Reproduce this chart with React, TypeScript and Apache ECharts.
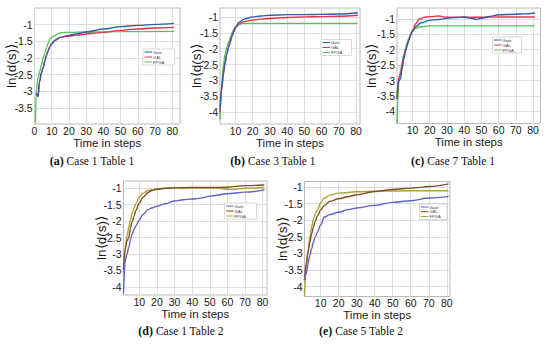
import React, { useEffect, useRef } from "react";
import * as echarts from "echarts";

const seriesNames = ["Gate", "GAL", "FPGA"];
const captionTags = ["(a)", "(b)", "(c)", "(d)", "(e)"];
const captionTexts = ["Case 1 Table 1", "Case 3 Table 1", "Case 7 Table 1", "Case 1 Table 2", "Case 5 Table 2"];
const xTicksA = [0, 10, 20, 30, 40, 50, 60, 70, 80];
const xTicks = [10, 20, 30, 40, 50, 60, 70, 80];
const yTicksA = [-1, -1.5, -2, -2.5, -3, -3.5];
const yTicks = [-1, -1.5, -2, -2.5, -3, -3.5, -4];

// Panel (a)
const gateA = [[1,-3.05],[2,-3.15],[3,-2.7],[4,-2.45],[5,-2.3],[6,-2.1],[7,-1.92],[8,-1.78],[9,-1.66],[10,-1.58],[12,-1.47],[15,-1.38],[20,-1.32],[25,-1.27],[30,-1.22],[40,-1.13],[50,-1.06],[60,-1.02],[70,-0.99],[81,-0.96]];
const galA = [[1,-3.05],[2,-3.15],[3,-2.7],[4,-2.45],[5,-2.28],[6,-2.08],[7,-1.9],[8,-1.76],[9,-1.65],[10,-1.56],[12,-1.46],[15,-1.38],[20,-1.34],[25,-1.31],[30,-1.28],[40,-1.23],[50,-1.17],[60,-1.13],[70,-1.1],[81,-1.08]];
const fpgaA = [[0.5,-3.95],[1,-3.05],[2,-2.6],[3,-2.4],[4,-2.2],[5,-2.0],[6,-1.85],[7,-1.68],[8,-1.55],[9,-1.43],[10,-1.38],[12,-1.32],[14,-1.26],[16,-1.24],[20,-1.23],[30,-1.22],[50,-1.21],[81,-1.2]];

// Panel (b)
const gateB = [[1,-3.9],[2,-3.2],[3,-2.75],[4,-2.4],[5,-2.15],[6,-1.95],[7,-1.78],[8,-1.6],[9,-1.46],[10,-1.33],[12,-1.17],[15,-1.07],[20,-1.0],[25,-0.97],[30,-0.95],[40,-0.93],[50,-0.93],[60,-0.92],[70,-0.91],[81,-0.87]];
const galB = [[1,-4.0],[2,-3.3],[3,-2.8],[4,-2.45],[5,-2.15],[6,-1.95],[7,-1.76],[8,-1.6],[9,-1.45],[10,-1.33],[12,-1.22],[15,-1.15],[20,-1.1],[25,-1.07],[30,-1.05],[40,-1.02],[50,-1.0],[60,-0.99],[70,-0.98],[81,-0.95]];
const fpgaB = [[1,-4.25],[2,-3.1],[3,-2.5],[4,-2.15],[5,-1.95],[6,-1.8],[7,-1.65],[8,-1.5],[9,-1.4],[10,-1.32],[12,-1.24],[14,-1.21],[20,-1.21],[40,-1.21],[60,-1.21],[81,-1.21]];

// Panel (c)
const gateC = [[1,-3.6],[2,-3.0],[3,-2.95],[4,-2.6],[5,-2.3],[6,-2.05],[7,-1.85],[8,-1.68],[9,-1.52],[10,-1.41],[12,-1.25],[15,-1.13],[20,-1.05],[25,-1.02],[30,-0.98],[35,-0.96],[40,-0.95],[45,-0.99],[47,-1.02],[50,-0.98],[55,-0.92],[60,-0.87],[70,-0.85],[75,-0.84],[81,-0.81]];
const galC = [[1,-3.6],[2,-2.9],[3,-2.8],[4,-2.5],[5,-2.2],[6,-2.0],[7,-1.82],[8,-1.65],[9,-1.5],[10,-1.38],[12,-1.15],[14,-1.0],[17,-0.95],[20,-0.93],[25,-0.91],[30,-0.95],[35,-0.95],[40,-0.94],[45,-0.95],[50,-0.95],[60,-0.94],[70,-0.94],[81,-0.94]];
const fpgaC = [[1,-4.4],[1.5,-3.6],[2,-3.1],[3,-2.7],[4,-2.4],[5,-2.15],[6,-1.95],[7,-1.75],[8,-1.6],[9,-1.47],[10,-1.38],[12,-1.3],[15,-1.25],[20,-1.23],[40,-1.23],[60,-1.23],[81,-1.23]];

// Panel (d)
const gateD = [[1,-4.2],[2,-3.2],[3,-3.0],[4,-2.8],[5,-2.55],[6,-2.4],[7,-2.25],[8,-2.15],[10,-1.97],[12,-1.8],[15,-1.65],[17,-1.6],[20,-1.55],[25,-1.47],[30,-1.39],[35,-1.35],[40,-1.33],[45,-1.3],[50,-1.24],[60,-1.17],[70,-1.12],[81,-1.05]];
const galD = [[1,-3.5],[2,-2.85],[3,-2.6],[4,-2.5],[5,-2.2],[6,-2.0],[7,-1.85],[8,-1.68],[10,-1.45],[12,-1.28],[15,-1.13],[17,-1.07],[20,-1.03],[25,-1.0],[30,-0.99],[40,-0.98],[50,-0.98],[60,-0.97],[70,-0.92],[81,-0.9]];
const fpgaD = [[1,-3.6],[2,-2.8],[3,-2.45],[4,-2.2],[5,-1.95],[6,-1.75],[7,-1.6],[8,-1.47],[10,-1.27],[12,-1.15],[15,-1.07],[20,-1.02],[25,-1.0],[30,-0.99],[40,-0.99],[50,-0.99],[55,-1.0],[60,-1.03],[63,-1.04],[70,-1.0],[81,-0.98]];

// Panel (e)
const gateE = [[1,-3.8],[2,-3.6],[3,-3.3],[4,-3.05],[5,-2.85],[6,-2.65],[7,-2.5],[8,-2.38],[10,-2.14],[12,-1.9],[15,-1.83],[20,-1.76],[25,-1.68],[30,-1.63],[40,-1.55],[50,-1.46],[60,-1.41],[70,-1.33],[81,-1.28]];
const galE = [[1,-3.8],[2,-3.3],[3,-2.95],[4,-2.65],[5,-2.4],[6,-2.2],[7,-2.02],[8,-1.88],[10,-1.69],[12,-1.55],[15,-1.43],[20,-1.35],[25,-1.29],[30,-1.23],[40,-1.13],[50,-1.07],[60,-1.03],[67,-1.0],[70,-0.98],[81,-0.9]];
const fpgaE = [[1,-4.3],[2,-3.4],[3,-2.9],[4,-2.5],[5,-2.2],[6,-1.95],[7,-1.8],[8,-1.7],[10,-1.48],[12,-1.33],[15,-1.24],[20,-1.18],[30,-1.14],[40,-1.12],[60,-1.11],[81,-1.11]];

const panelData = [
  [gateA, galA, fpgaA],
  [gateB, galB, fpgaB],
  [gateC, galC, fpgaC],
  [gateD, galD, fpgaD],
  [gateE, galE, fpgaE],
];

const colorsTop = ["#2f5fa3", "#e8344c", "#5cbf5c"];
const colorsBottom = ["#6062c4", "#7f4f22", "#aaa33a"];

const layouts = [
  { l: 34.5, t: 8, w: 145.5, h: 116, xmin: 0, xmax: 84.5, ymin: -3.98, ymax: -0.5, xt: xTicksA, yt: yTicksA },
  { l: 220, t: 8, w: 140, h: 116, xmin: 1, xmax: 82.3, ymin: -4.37, ymax: -0.72, xt: xTicks, yt: yTicks },
  { l: 397, t: 8, w: 143.5, h: 115.5, xmin: 1, xmax: 84.3, ymin: -4.39, ymax: -0.65, xt: xTicks, yt: yTicks },
  { l: 123.5, t: 181, w: 143.5, h: 114, xmin: 1, xmax: 82.5, ymin: -4.25, ymax: -0.78, xt: xTicks, yt: yTicks },
  { l: 304.5, t: 181.5, w: 145.5, h: 115, xmin: 1, xmax: 81.8, ymin: -4.3, ymax: -0.83, xt: xTicks, yt: yTicks },
];

const legendBoxes = [
  { x: 143, y: 49, w: 31.5, h: 16 },
  { x: 321, y: 39.5, w: 30.5, h: 16 },
  { x: 492.5, y: 37, w: 29, h: 16 },
  { x: 224.5, y: 203, w: 32, h: 16 },
  { x: 419.5, y: 204, w: 27.5, h: 15.5 },
];

const yLabelPos = [[11.5, 66], [196, 66], [371, 66], [101, 238], [282, 239]];
const captionCenters = [[92, 161], [273, 161], [453, 161], [181, 331], [361, 331]];

export default function App() {
  const ref = useRef<HTMLDivElement>(null);
  useEffect(() => {
    const chart = echarts.init(ref.current!, null, { renderer: "svg" });
    const grids: any[] = [];
    const xAxes: any[] = [];
    const yAxes: any[] = [];
    const series: any[] = [];
    const graphic: any[] = [];
    const sans = "Liberation Sans, Arial, sans-serif";
    const tickFont = { fontFamily: sans, fontSize: 10.5, lineHeight: 11, color: "#1a1a1a" };

    layouts.forEach((L, i) => {
      grids.push({ left: L.l, top: L.t, width: L.w, height: L.h, show: true, borderColor: "#a8a8a8", borderWidth: 0.8, backgroundColor: "#fff" });
      xAxes.push({
        type: "value", gridIndex: i, min: L.xmin, max: L.xmax,
        axisLine: { show: false }, axisTick: { show: false, customValues: L.xt },
        axisLabel: { ...tickFont, margin: 1, customValues: L.xt, formatter: (v: number) => String(v) },
        splitLine: { show: true, lineStyle: { color: "#d6d6d6", width: 0.8 } },
      });
      yAxes.push({
        type: "value", gridIndex: i, min: L.ymin, max: L.ymax,
        axisLine: { show: false }, axisTick: { show: false, customValues: L.yt },
        axisLabel: { ...tickFont, margin: 2, customValues: L.yt, formatter: (v: number) => String(v) },
        splitLine: { show: true, lineStyle: { color: "#d6d6d6", width: 0.8 } },
      });
      const cols = i < 3 ? colorsTop : colorsBottom;
      panelData[i].forEach((d, k) => {
        series.push({
          type: "line", name: seriesNames[k], xAxisIndex: i, yAxisIndex: i, data: d,
          showSymbol: false, smooth: 0.35, smoothMonotone: "x",
          lineStyle: { color: cols[k], width: 1.4 }, clip: true, z: 5 - k,
        });
      });
      graphic.push({
        type: "text", x: L.l + L.w / 2, y: L.t + L.h + 18.5,
        style: { text: "Time in steps", fontFamily: sans, fontSize: 11.5, lineHeight: 12, fill: "#1a1a1a", align: "center", verticalAlign: "middle" },
      });
      graphic.push({
        type: "text", x: yLabelPos[i][0], y: yLabelPos[i][1], rotation: Math.PI / 2,
        style: { text: "ln⟨d(s)⟩", fontFamily: sans, fontSize: 13.5, fill: "#1a1a1a", align: "center", verticalAlign: "middle" },
      });
      graphic.push({
        type: "text", x: captionCenters[i][0], y: captionCenters[i][1],
        style: {
          text: "{b|" + captionTags[i] + "} " + captionTexts[i],
          fontFamily: "Liberation Serif, Times New Roman, serif", fontSize: 11.5, fill: "#111", align: "center", verticalAlign: "middle",
          rich: { b: { fontWeight: "bold", fontFamily: "Liberation Serif, Times New Roman, serif", fontSize: 12, fill: "#111" } },
        },
      });
      const B = legendBoxes[i];
      graphic.push({ type: "rect", shape: { x: B.x, y: B.y, width: B.w, height: B.h }, style: { fill: "#fff", stroke: "#c0c0c0", lineWidth: 0.6 }, z: 10 });
      seriesNames.forEach((nm, k) => {
        const yy = B.y + 3 + k * (B.h - 6) / 2;
        graphic.push({ type: "line", shape: { x1: B.x + 1.5, y1: yy, x2: B.x + 9, y2: yy }, style: { stroke: cols[k], lineWidth: 1 }, z: 11 });
        graphic.push({ type: "text", x: B.x + 10, y: yy, style: { text: nm, fontFamily: sans, fontSize: 4.2, lineHeight: 4.2, fill: "#444", align: "left", verticalAlign: "middle" }, z: 11 });
      });
    });

    chart.setOption({
      animation: false,
      backgroundColor: "#fff",
      grid: grids, xAxis: xAxes, yAxis: yAxes, series, graphic,
    });
    return () => chart.dispose();
  }, []);
  return <div ref={ref} style={{ position: "absolute", left: 0, top: 0, width: 550, height: 344, background: "#fff" }} />;
}
